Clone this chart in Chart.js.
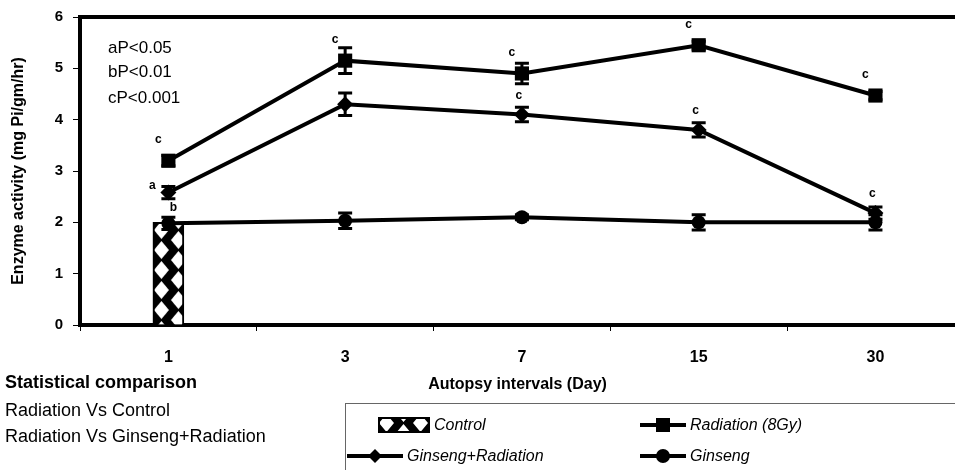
<!DOCTYPE html>
<html>
<head>
<meta charset="utf-8">
<script src="https://cdn.jsdelivr.net/npm/chart.js@4.4.0/dist/chart.umd.min.js"></script>
<style>
  html, body { margin: 0; padding: 0; background: #fff; }
  #wrap { position: relative; width: 955px; height: 470px; overflow: hidden;
          font-family: "Liberation Sans", Arial, sans-serif; color: #000; }
  #chart { position: absolute; left: 0; top: 0; }
  .txt { position: absolute; white-space: nowrap; line-height: 1; }
  .pnote { font-size: 17px; left: 108px; }
  .stat { font-size: 18px; left: 5px; }
  #legend { position: absolute; left: 345px; top: 403px; width: 640px; height: 80px;
            border-top: 1px solid #666; border-left: 1px solid #666; }
  .leg { position: absolute; display: flex; align-items: center; font-style: italic; font-size: 16px; }
  .leg svg { display: block; margin-right: 4px; }
</style>
</head>
<body>
<div id="wrap">
  <canvas id="chart" width="955" height="470"></canvas>

  <div class="txt pnote" style="top:39px">aP&lt;0.05</div>
  <div class="txt pnote" style="top:63px">bP&lt;0.01</div>
  <div class="txt pnote" style="top:89px">cP&lt;0.001</div>

  <div class="txt stat" style="top:373px;font-weight:bold">Statistical comparison</div>
  <div class="txt stat" style="top:401px">Radiation Vs Control</div>
  <div class="txt stat" style="top:427px">Radiation Vs Ginseng+Radiation</div>

  <div id="legend">
    <div class="leg" style="left:32px;top:12px">
      <svg width="52" height="16">
        <defs>
          <pattern id="dia" width="34" height="20" patternUnits="userSpaceOnUse" x="0" y="-4">
            <rect width="34" height="20" fill="#000"/>
            <path d="M8.5 1 L16 10 L8.5 19 L1 10 Z M25.5 -9 L33 0 L25.5 9 L18 0 Z M25.5 11 L33 20 L25.5 29 L18 20 Z" fill="#fff"/>
          </pattern>
        </defs>
        <rect x="1" y="1" width="50" height="14" fill="url(#dia)" stroke="#000" stroke-width="2"/>
      </svg>Control</div>
    <div class="leg" style="left:294px;top:12px">
      <svg width="46" height="16"><line x1="0" y1="8" x2="46" y2="8" stroke="#000" stroke-width="4"/><rect x="16" y="1" width="14" height="14" fill="#000"/></svg>Radiation (8Gy)</div>
    <div class="leg" style="left:1px;top:43px">
      <svg width="56" height="16"><line x1="0" y1="8" x2="56" y2="8" stroke="#000" stroke-width="4"/><path d="M28 1 L35 8 L28 15 L21 8 Z" fill="#000"/></svg>Ginseng+Radiation</div>
    <div class="leg" style="left:294px;top:43px">
      <svg width="46" height="16"><line x1="0" y1="8" x2="46" y2="8" stroke="#000" stroke-width="4"/><circle cx="23" cy="8" r="7" fill="#000"/></svg>Ginseng</div>
  </div>
</div>

<script>
'use strict';

// autopsy intervals (days) and enzyme activity, mg Pi/gm/hr
const days          = ['1', '3', '7', '15', '30'];
const yTicks        = [0, 1, 2, 3, 4, 5, 6];
const control       = [2.0];                       // control only at day 1
const radiation     = [3.2, 5.15, 4.9, 5.45, 4.47];
const radiationErr  = [0.1, 0.25, 0.2, 0.08, 0.08];
const ginsengRad    = [2.58, 4.3, 4.1, 3.8, 2.18];
const ginsengRadErr = [0.12, 0.22, 0.14, 0.14, 0.12];
const ginseng       = [1.98, 2.03, 2.1, 2.0, 2.0];
const ginsengErr    = [0.12, 0.15, 0.05, 0.15, 0.15];

// significance letters above each point
const radiationSig  = ['c', 'c', 'c', 'c', 'c'];
const ginsengRadSig = ['a', '', 'c', 'c', 'c'];
const ginsengSig    = ['b', '', '', '', ''];

const FONT = '"Liberation Sans", Arial, sans-serif';
const toXY = arr => arr.map((v, i) => ({ x: i, y: v }));

function diamondPattern(ctx) {
  const c = document.createElement('canvas');
  c.width = 34; c.height = 20;
  const g = c.getContext('2d');
  g.fillStyle = '#000'; g.fillRect(0, 0, 34, 20);
  g.fillStyle = '#fff';
  const dia = (cx, cy) => {
    g.beginPath();
    g.moveTo(cx, cy - 9); g.lineTo(cx + 7.5, cy); g.lineTo(cx, cy + 9); g.lineTo(cx - 7.5, cy);
    g.closePath(); g.fill();
  };
  dia(8.5, 10); dia(25.5, 0); dia(25.5, 20);
  return ctx.createPattern(c, 'repeat');
}

// vertical error bars with caps, drawn from each dataset's `errors`
const errorBars = {
  id: 'errorBars',
  afterDatasetsDraw(chart) {
    const { ctx, scales: { x, y } } = chart;
    ctx.save();
    ctx.strokeStyle = '#000';
    ctx.lineWidth = 3;
    chart.data.datasets.forEach(ds => {
      if (!ds.errors) return;
      ds.data.forEach((p, j) => {
        const e = ds.errors[j];
        if (!e) return;
        const px = x.getPixelForValue(p.x);
        const top = y.getPixelForValue(p.y + e);
        const bot = y.getPixelForValue(p.y - e);
        ctx.beginPath();
        ctx.moveTo(px, top); ctx.lineTo(px, bot);
        ctx.moveTo(px - 7, top); ctx.lineTo(px + 7, top);
        ctx.moveTo(px - 7, bot); ctx.lineTo(px + 7, bot);
        ctx.stroke();
      });
    });
    ctx.restore();
  }
};

// significance letters, placed relative to their point
const sigLetters = {
  id: 'sigLetters',
  afterDatasetsDraw(chart) {
    const { ctx, scales: { x, y } } = chart;
    const sets = [
      { vals: radiation,  sig: radiationSig,  dx: -10, dy: -21 },
      { vals: ginsengRad, sig: ginsengRadSig, dx: -3,  dy: -19, first: [-16, -7] },
      { vals: ginseng,    sig: ginsengSig,    dx: 5,   dy: -16 },
    ];
    ctx.save();
    ctx.fillStyle = '#000';
    ctx.font = 'bold 12px ' + FONT;
    ctx.textAlign = 'center';
    ctx.textBaseline = 'middle';
    sets.forEach(s => {
      s.sig.forEach((t, i) => {
        if (!t) return;
        const off = (i === 0 && s.first) ? s.first : [s.dx, s.dy];
        ctx.fillText(t, x.getPixelForValue(i) + off[0], y.getPixelForValue(s.vals[i]) + off[1]);
      });
    });
    ctx.restore();
  }
};

const lineDs = (label, vals, errs, style, r) => ({
  type: 'line', label, data: toXY(vals), errors: errs,
  borderColor: '#000', borderWidth: 4, backgroundColor: '#000',
  pointStyle: style, pointRadius: r, pointBorderWidth: 0, pointBackgroundColor: '#000',
  tension: 0, order: 1,
});

new Chart(document.getElementById('chart'), {
  data: {
    datasets: [
      {
        type: 'bar', label: 'Control', data: toXY(control),
        backgroundColor: c => {
          const sx = c.chart.scales.x;
          const p = diamondPattern(c.chart.ctx);
          if (sx) p.setTransform(new DOMMatrix().translate(sx.getPixelForValue(0) - 15.5, 0));
          return p;
        },
        borderColor: '#000', borderWidth: 2, barThickness: 31, order: 10,
      },
      lineDs('Radiation (8Gy)', radiation, radiationErr, 'rect', 10),
      lineDs('Ginseng+Radiation', ginsengRad, ginsengRadErr, 'rectRot', 8),
      lineDs('Ginseng', ginseng, ginsengErr, 'circle', 7),
    ],
  },
  options: {
    responsive: false,
    animation: false,
    events: [],
    layout: { autoPadding: false, padding: { top: 17, left: 0, right: 0, bottom: 75 } },
    plugins: { legend: { display: false }, tooltip: { enabled: false } },
    scales: {
      x: {
        type: 'linear', position: 'bottom', min: -0.5, max: 4.45, offset: false,
        afterBuildTicks: s => { s.ticks = days.map((d, i) => ({ value: i })); },
        afterFit: s => { s.height = 70; s.paddingLeft = 0; s.paddingRight = 0; },
        ticks: {
          callback: v => days[v], color: '#000', padding: 17,
          font: { family: FONT, size: 16, weight: 'bold' },
        },
        grid: { offset: true, drawOnChartArea: false, tickLength: 6, color: '#000', lineWidth: 1 },
        border: { color: '#000', width: 4 },
        title: {
          display: true, text: 'Autopsy intervals (Day)', color: '#000',
          font: { family: FONT, size: 16, weight: 'bold' }, padding: { top: 0, bottom: 1 },
        },
      },
      xTop: {
        type: 'linear', position: 'top', min: -0.5, max: 4.45, offset: false,
        ticks: { display: false },
        grid: { display: false, drawTicks: false },
        border: { color: '#000', width: 4 },
        afterFit: s => { s.height = 0; s.paddingLeft = 0; s.paddingRight = 0; },
      },
      y: {
        min: 0, max: 6,
        afterBuildTicks: s => { s.ticks = yTicks.map(v => ({ value: v })); },
        afterFit: s => { s.width = 80; s.paddingTop = 0; s.paddingBottom = 0; },
        ticks: { color: '#000', padding: 10, font: { family: FONT, size: 15, weight: 'bold' } },
        grid: { drawOnChartArea: false, tickLength: 7, color: '#000', lineWidth: 1 },
        border: { color: '#000', width: 4 },
        title: {
          display: true, text: 'Enzyme activity (mg Pi/gm/hr)', color: '#000',
          font: { family: FONT, size: 16, weight: 'bold' }, padding: { top: 9, bottom: 0 },
        },
      },
    },
  },
  plugins: [errorBars, sigLetters],
});
</script>
</body>
</html>
